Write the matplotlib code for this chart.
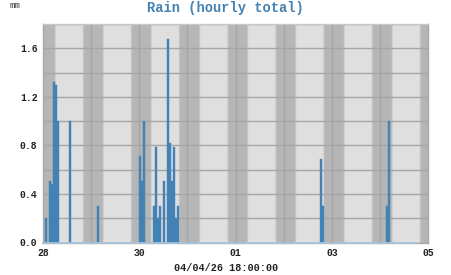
import datetime as dt
import matplotlib
matplotlib.use("Agg")
import matplotlib.pyplot as plt
from matplotlib.ticker import MultipleLocator

# hourly rain, hours counted from 28 Mar 00:00 (bar start)
rain_hour = [1, 3, 4, 5, 6, 7, 13, 27,
             48, 49, 50, 55, 56, 57, 58, 60, 62, 63, 64, 65, 66, 67,
             138, 139, 171, 172]
rain_mm = [0.2, 0.51, 0.48, 1.32, 1.30, 1.0, 1.0, 0.3,
           0.71, 0.51, 1.0, 0.3, 0.79, 0.2, 0.3, 0.51, 1.68, 0.82, 0.51, 0.79, 0.2, 0.3,
           0.69, 0.3, 0.3, 1.0]

start = dt.datetime(2026, 3, 28)
end = dt.datetime(2026, 4, 5)
last_rec = dt.datetime(2026, 4, 4, 18, 0, 0)

BLUE = "#4282b4"
NIGHT = "#b6b6b6"
DAY = "#dfdfdf"
GRID = "#a6a6a6"
MONO = "Liberation Mono"

fig = plt.figure(figsize=(4.51, 2.75), dpi=100)
ax = fig.add_axes([43 / 451, 1 - 242.5 / 275, (428.3 - 43) / 451, (242.5 - 24) / 275])
ax.set_facecolor(NIGHT)


def blend(a, b, f):
    ca = matplotlib.colors.to_rgb(a)
    cb = matplotlib.colors.to_rgb(b)
    return tuple(x + (y - x) * f for x, y in zip(ca, cb))


# day / night shading with a soft twilight edge
day = start - dt.timedelta(days=1)
while day < end:
    rise = day + dt.timedelta(hours=5, minutes=30)
    sett = day + dt.timedelta(hours=19, minutes=30)
    steps = 4
    tw = dt.timedelta(minutes=60) / steps
    for i in range(steps):
        f = (i + 0.5) / steps
        ax.axvspan(rise + i * tw, rise + (i + 1) * tw, color=blend(NIGHT, DAY, f), lw=0, zorder=0)
        ax.axvspan(sett + i * tw, sett + (i + 1) * tw, color=blend(DAY, NIGHT, f), lw=0, zorder=0)
    ax.axvspan(rise + steps * tw, sett, color=DAY, lw=0, zorder=0)
    day += dt.timedelta(days=1)

times = [start + dt.timedelta(hours=h) for h in rain_hour]
ax.bar(times, rain_mm, width=1 / 24, align="edge", color=BLUE, edgecolor=BLUE, lw=0.3, zorder=3)

ax.plot([start, last_rec], [0, 0], color="#a9c5dd", lw=1.2, zorder=4, clip_on=False)

ax.set_xlim(start, end)
ax.set_ylim(0, 1.8)
ax.set_xticks([start + dt.timedelta(days=d) for d in range(9)])
ax.set_xticklabels([(start + dt.timedelta(days=d)).strftime("%d") if d % 2 == 0 else "" for d in range(9)])
ax.yaxis.set_major_locator(MultipleLocator(0.2))
ax.set_yticklabels(["%.1f" % v if round(v / 0.4, 3) % 1 == 0 else "" for v in ax.get_yticks()])
ax.grid(True, color=GRID, lw=1, zorder=1)
ax.set_axisbelow(True)
ax.tick_params(length=0, labelsize=7, pad=4)
for lab in ax.get_xticklabels() + ax.get_yticklabels():
    lab.set_fontfamily(MONO)
    lab.set_fontweight("bold")
    lab.set_color("#222222")
for side in ["top", "left", "right", "bottom"]:
    ax.spines[side].set_color("#aaaaaa")
    ax.spines[side].set_linewidth(1)
ax.spines["top"].set_color("#c8c8c8")

fig.text(0.5, 1 - 8 / 275, "Rain (hourly total)", ha="center", va="center",
         color=BLUE, fontsize=9.9, fontfamily=MONO, fontweight="bold")
fig.text(10 / 451, 1 - 6 / 275, "mm", ha="left", va="center", fontsize=6.5, fontfamily=MONO, color="#333333")
fig.text(226 / 451, 1 - 268 / 275, last_rec.strftime("%m/%d/%y %H:%M:%S"), ha="center", va="center",
         fontsize=7.3, fontfamily=MONO, fontweight="bold", color="#222222")

fig.savefig("out.png", dpi=100)
